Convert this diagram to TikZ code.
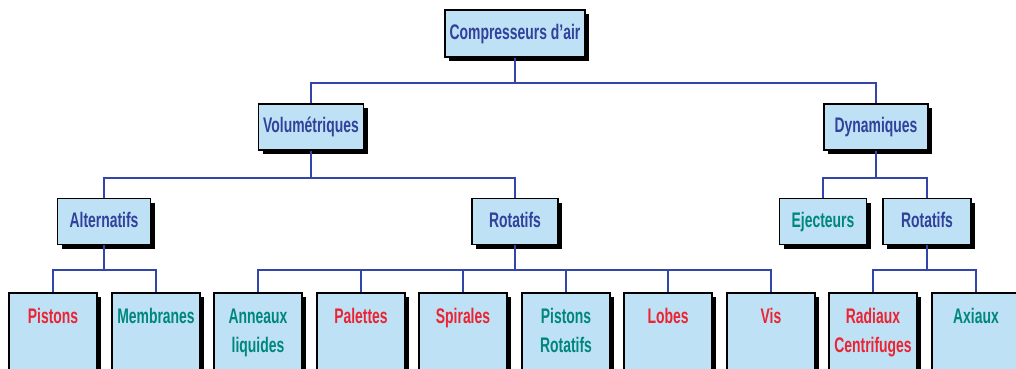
\documentclass[tikz,border=0pt]{standalone}
\usepackage{fontspec}
\setmainfont{Liberation Sans}[FakeStretch=0.66]
\usetikzlibrary{shadows}

\definecolor{boxfill}{RGB}{190,225,245}
\definecolor{txtblue}{RGB}{50,65,155}
\definecolor{txtred}{RGB}{235,35,50}
\definecolor{txtteal}{RGB}{0,135,125}
\definecolor{lineblue}{RGB}{50,70,170}

\tikzstyle{custblock} = [rectangle, text centered, align=center, draw=black, line width=1.2pt, fill=boxfill, font=\fontsize{15}{21}\selectfont\bfseries, text=txtblue, drop shadow={shadow xshift=3pt, shadow yshift=-3pt, fill=black, opacity=1}]
\tikzstyle{topblock} = [custblock, minimum height=1.15cm, text height=11pt, text depth=3pt]
\tikzstyle{leafblock} = [custblock, minimum width=2.2cm, minimum height=2.1cm, execute at end node=\strut]
\tikzstyle{redtxt} = [text=txtred]
\tikzstyle{tealtxt} = [text=txtteal]
\tikzstyle{link} = [draw=lineblue, line width=1.4pt]

\begin{document}
\begin{tikzpicture}[x=0.025cm, y=-0.025cm]
\clip (0,0) rectangle (1016,368);
%Custom blocks
\node (comp) [topblock, minimum width=3.43cm, minimum height=1.18cm] at (515,33.5) {Compresseurs d'air};
\node (vol) [topblock, minimum width=2.63cm] at (311,127) {Volumétriques};
\node (dyn) [topblock, minimum width=2.6cm] at (876,127) {Dynamiques};
\node (alt) [topblock, minimum width=2.33cm] at (104,221.5) {Alternatifs};
\node (rotvol) [topblock, minimum width=2.15cm] at (515,221.5) {Rotatifs};
\node (ejec) [topblock, tealtxt, minimum width=2.18cm] at (823,221.5) {Ejecteurs};
\node (rotdyn) [topblock, minimum width=2.2cm] at (927,221.5) {Rotatifs};

\node (pistons) [leafblock, redtxt] at (53,335) {Pistons\\~};
\node (membr) [leafblock, tealtxt] at (156,335) {Membranes\\~};
\node (anneaux) [leafblock, tealtxt] at (258,335) {Anneaux\\liquides};
\node (palettes) [leafblock, redtxt] at (361,335) {Palettes\\~};
\node (spirales) [leafblock, redtxt] at (463,335) {Spirales\\~};
\node (pistrot) [leafblock, tealtxt] at (566,335) {Pistons\\Rotatifs};
\node (lobes) [leafblock, redtxt] at (668,335) {Lobes\\~};
\node (vis) [leafblock, redtxt] at (771,335) {Vis\\~};
\node (radiaux) [leafblock, redtxt] at (873,335) {Radiaux\\Centrifuges};
\node (axiaux) [leafblock, tealtxt] at (976,335) {Axiaux\\~};

%Lines
\draw [link] (comp.south) -- ++(0,25) -| (vol.north);
\draw [link] (comp.south) -- ++(0,25) -| (dyn.north);

\draw [link] (vol.south) -- ++(0,27) -| (alt.north);
\draw [link] (vol.south) -- ++(0,27) -| (rotvol.north);
\draw [link] (dyn.south) -- ++(0,27) -| (ejec.north);
\draw [link] (dyn.south) -- ++(0,27) -| (rotdyn.north);

\draw [link] (alt.south) -- ++(0,25) -| (pistons.north);
\draw [link] (alt.south) -- ++(0,25) -| (membr.north);

\foreach \leaf in {anneaux,palettes,spirales,pistrot,lobes,vis}
  \draw [link] (rotvol.south) -- ++(0,25) -| (\leaf.north);

\draw [link] (rotdyn.south) -- ++(0,25) -| (radiaux.north);
\draw [link] (rotdyn.south) -- ++(0,25) -| (axiaux.north);
\end{tikzpicture}
\end{document}
